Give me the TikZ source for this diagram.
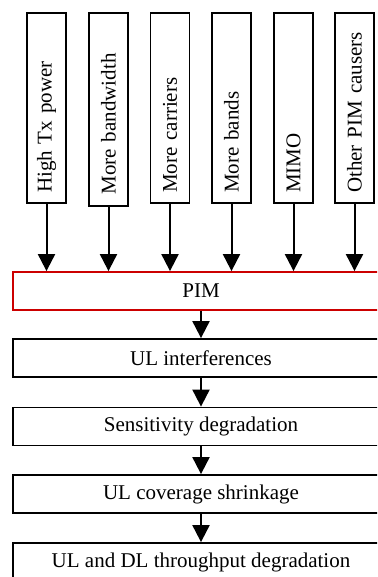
\documentclass[tikz,border=0pt]{standalone}
\usepackage{fontspec}
\setmainfont{Liberation Serif}
\usetikzlibrary{arrows.meta}
\definecolor{pimred}{RGB}{204,0,0}
\begin{document}
\begin{tikzpicture}[x=1pt,y=-1pt,
  causebox/.style={draw, line width=1.8pt, rotate=90, minimum width=190pt,
    minimum height=39pt, text width=170pt, align=left, inner sep=0pt,
    font=\fontsize{21}{25}\selectfont},
  chainbox/.style={draw, line width=1.8pt, minimum width=376pt,
    minimum height=38pt, inner sep=0pt, font=\fontsize{21}{25}\selectfont},
  arr/.style={line width=2pt, -{Triangle[length=17pt,width=17pt]}}]
\useasboundingbox (0,0) rectangle (377,577);
\clip (0,0) rectangle (377,577);
% causes
\node[causebox] (c1) at (46.5,108) {High Tx power};
\node[causebox, minimum width=193pt] (c2) at (108.5,109.5) {More bandwidth};
\node[causebox] (c3) at (170,108) {More carriers};
\node[causebox] (c4) at (231.5,108) {More bands};
\node[causebox] (c5) at (293.5,108) {MIMO};
\node[causebox] (c6) at (354.5,108) {Other PIM causers};
% chain
\node[chainbox, draw=pimred] (pim) at (201,291) {PIM};
\node[chainbox] (ul) at (201,358) {UL interferences};
\node[chainbox] (sens) at (201,426.5) {Sensitivity degradation};
\node[chainbox] (cov) at (201,494) {UL coverage shrinkage};
\node[chainbox] (thr) at (201,562) {UL and DL throughput degradation};
% arrows
\foreach \c in {c1,c2,c3,c4,c5,c6}
  \draw[arr] (\c.west) -- (\c.west |- pim.north);
\draw[arr] (pim) -- (ul);
\draw[arr] (ul) -- (sens);
\draw[arr] (sens) -- (cov);
\draw[arr] (cov) -- (thr);
\end{tikzpicture}
\end{document}
